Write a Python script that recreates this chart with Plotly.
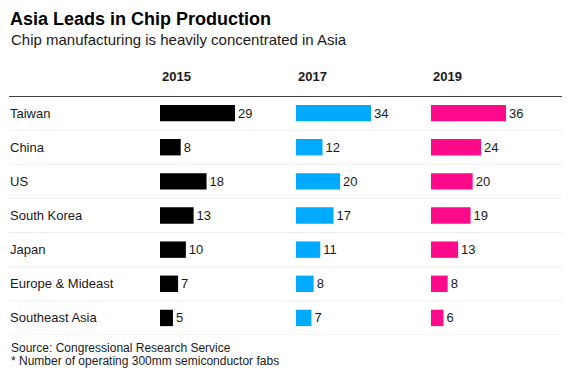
import plotly.graph_objects as go

regions = ["Taiwan", "China", "US", "South Korea", "Japan", "Europe & Mideast", "Southeast Asia"]
years = ["2015", "2017", "2019"]
v2015 = [29, 8, 18, 13, 10, 7, 5]
v2017 = [34, 12, 20, 17, 11, 8, 7]
v2019 = [36, 24, 20, 19, 13, 8, 6]
series = [v2015, v2017, v2019]
colors = ["#000000", "#00aaff", "#ff0a8a"]

W, H = 570, 375
OFF = 8  # page body margin
FONT = "Liberation Sans, Arial, Helvetica, sans-serif"
TXT = "#1a1a1a"

def px(x):
    return (x - OFF) / W

def py(y):
    return 1 - (y - OFF) / H

col_start = [160, 296, 431]
col_width = 120
max_bar_px = 75
ydom = [py(335), py(96)]

fig = go.Figure()
for i, (vals, c) in enumerate(zip(series, colors)):
    xa = "x" if i == 0 else f"x{i+1}"
    ya = "y" if i == 0 else f"y{i+1}"
    fig.add_trace(go.Bar(
        y=regions, x=vals, orientation="h", marker=dict(color=c, line=dict(width=0)),
        width=0.48, text=[str(v) for v in vals], textposition="outside",
        textfont=dict(size=13, color=TXT, family=FONT), cliponaxis=False,
        xaxis=xa, yaxis=ya, hoverinfo="skip", showlegend=False))
    key = "xaxis" if i == 0 else f"xaxis{i+1}"
    ykey = "yaxis" if i == 0 else f"yaxis{i+1}"
    fig.layout[key] = dict(domain=[px(col_start[i]), px(col_start[i] + col_width)],
                           range=[0, max(vals) * col_width / max_bar_px],
                           visible=False, anchor=ya)
    fig.layout[ykey] = dict(domain=ydom, range=[6.5, -0.5], visible=False,
                            anchor=xa, type="category", categoryorder="array",
                            categoryarray=regions)

shapes = []
for k in range(len(regions)):
    shapes.append(dict(type="line", xref="paper", yref="y", x0=px(9), x1=px(568),
                       y0=k + 0.5, y1=k + 0.5, line=dict(color="#eeeeee", width=1), layer="below"))
shapes.append(dict(type="line", xref="paper", yref="y", x0=px(9), x1=px(568),
                   y0=-0.5, y1=-0.5, line=dict(color="#000000", width=1.5)))

ann = []
for r in regions:
    ann.append(dict(x=px(8), y=r, xref="paper", yref="y", text=r, showarrow=False,
                    xanchor="left", yanchor="middle", font=dict(size=13, color=TXT, family=FONT)))
for i, yr in enumerate(years):
    ann.append(dict(x=px(col_start[i]), y=py(77), xref="paper", yref="paper", text=f"<b>{yr}</b>",
                    showarrow=False, xanchor="left", yanchor="middle",
                    font=dict(size=13, color=TXT, family=FONT)))
ann.append(dict(x=px(9), y=1, xref="paper", yref="paper", text="<b>Asia Leads in Chip Production</b>",
                showarrow=False, xanchor="left", yanchor="top", borderpad=0,
                font=dict(size=18, color="#000000", family=FONT)))
ann.append(dict(x=px(9), y=py(39), xref="paper", yref="paper", text="Chip manufacturing is heavily concentrated in Asia",
                showarrow=False, xanchor="left", yanchor="middle", font=dict(size=15, color=TXT, family=FONT)))
ann.append(dict(x=px(9), y=py(348), xref="paper", yref="paper", text="Source: Congressional Research Service",
                showarrow=False, xanchor="left", yanchor="middle", font=dict(size=12, color=TXT, family=FONT)))
ann.append(dict(x=px(9), y=py(361), xref="paper", yref="paper", text="* Number of operating 300mm semiconductor fabs",
                showarrow=False, xanchor="left", yanchor="middle", font=dict(size=12, color=TXT, family=FONT)))

fig.update_layout(width=W, height=H, margin=dict(l=0, r=0, t=0, b=0),
                  paper_bgcolor="white", plot_bgcolor="white", shapes=shapes, annotations=ann,
                  bargap=0.5, font=dict(family=FONT))
fig.write_html("out.html")
